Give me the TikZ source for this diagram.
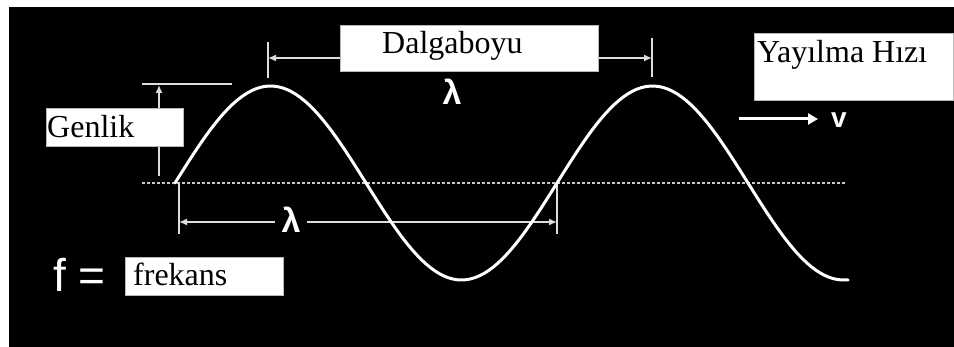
\documentclass[tikz,border=0pt]{standalone}
\usepackage{fontspec}
\setmainfont{Liberation Serif}
\newfontfamily\sansfont{Liberation Sans}
\usepackage{tikz}
\usetikzlibrary{arrows.meta,positioning,calc}
\definecolor{cizgi}{HTML}{DDDDDD}
\definecolor{nokta}{HTML}{C8C8C8}
\tikzset{
  kutu/.style={rectangle, draw=gray!55, fill=white, line width=0.8pt, inner sep=0pt, anchor=north west},
  etiket/.style={anchor=base west, inner sep=0pt, text=black, font=\fontsize{32}{36}\selectfont},
  olcu/.style={draw=cizgi, line width=1.5pt},
  ok/.style={-{Latex[length=8pt,width=7pt]}, line width=1.5pt, draw=cizgi},
  simge/.style={inner sep=0pt, text=white, font=\sansfont\bfseries\fontsize{34}{36}\selectfont},
}

\begin{document}
\begin{tikzpicture}[x=1pt, y=-1pt]
\useasboundingbox (0,0) rectangle (954,347);
\fill[black] (9,7) rectangle (954,347);
% eksen
\draw[nokta, line width=2pt, dash pattern=on 3pt off 2pt] (142,183) -- (845,183);
% genlik
\coordinate (gAlt) at (159,176);
\coordinate (gUst) at (159,85);
\draw[olcu] (142,84) -- (232,84);
\draw[ok] (gAlt) -- (gUst);
\node[kutu, minimum width=137pt, minimum height=38pt] (genlikKutu) at (46,108) {};
\node[etiket] (genlik) at (47,138) {Genlik};
% dalgaboyu (ust)
\node[kutu, minimum width=258pt, minimum height=46pt] (dalgaKutu) at (340,25) {};
\node[etiket] (dalgaboyu) at (382,54) {Dalgaboyu};
\coordinate (tepe1) at (268,58);
\coordinate (tepe2) at (652,58);
\draw[olcu] (268,42) -- (268,78);
\draw[olcu] (652,38) -- (652,77);
\draw[ok] (dalgaKutu.west |- tepe1) -- (tepe1);
\draw[ok] (dalgaKutu.east |- tepe2) -- (tepe2);
\node[simge] (lambdaUst) at (452,92) {λ};
% yayilma hizi
\node[kutu, minimum width=199pt, minimum height=67pt] (hizKutu) at (754,33) {};
\node[etiket] (hiz) at (757,63) {Yayılma Hızı};
\coordinate (okBas) at (739,119);
\coordinate (okUc) at (818,119);
\draw[-{Triangle[length=10pt,width=11pt]}, white, line width=3pt] (okBas) -- (okUc);
\node[simge, anchor=base west, font=\sansfont\bfseries\fontsize{28}{30}\selectfont] (hizV) at (831,128) {v};
% dalgaboyu (alt)
\coordinate (solUc) at (179,222);
\coordinate (sagUc) at (557,222);
\draw[olcu] (179,183) -- (179,234);
\draw[olcu] (557,183) -- (557,234);
\draw[{Latex[length=8pt,width=7pt]}-{Latex[length=8pt,width=7pt]}, olcu] (solUc) -- (sagUc);
\node[simge, fill=black, inner xsep=7pt] (lambdaAlt) at (291,220) {λ};
% frekans
\node[anchor=base west, inner sep=0pt, text=white, font=\sansfont\fontsize{46}{50}\selectfont] (fEsit) at (53,292) {f =};
\node[kutu, minimum width=158pt, minimum height=38pt] (frekansKutu) at (125,257) {};
\node[etiket] (frekans) at (133,286) {frekans};
% dalga
\draw[white, line width=3pt, line join=round, line cap=round] plot[domain=0:1.75, samples=150] ({175+382*\x}, {183-97*sin(360*\x)}) -- (848,280);
\end{tikzpicture}
\end{document}
